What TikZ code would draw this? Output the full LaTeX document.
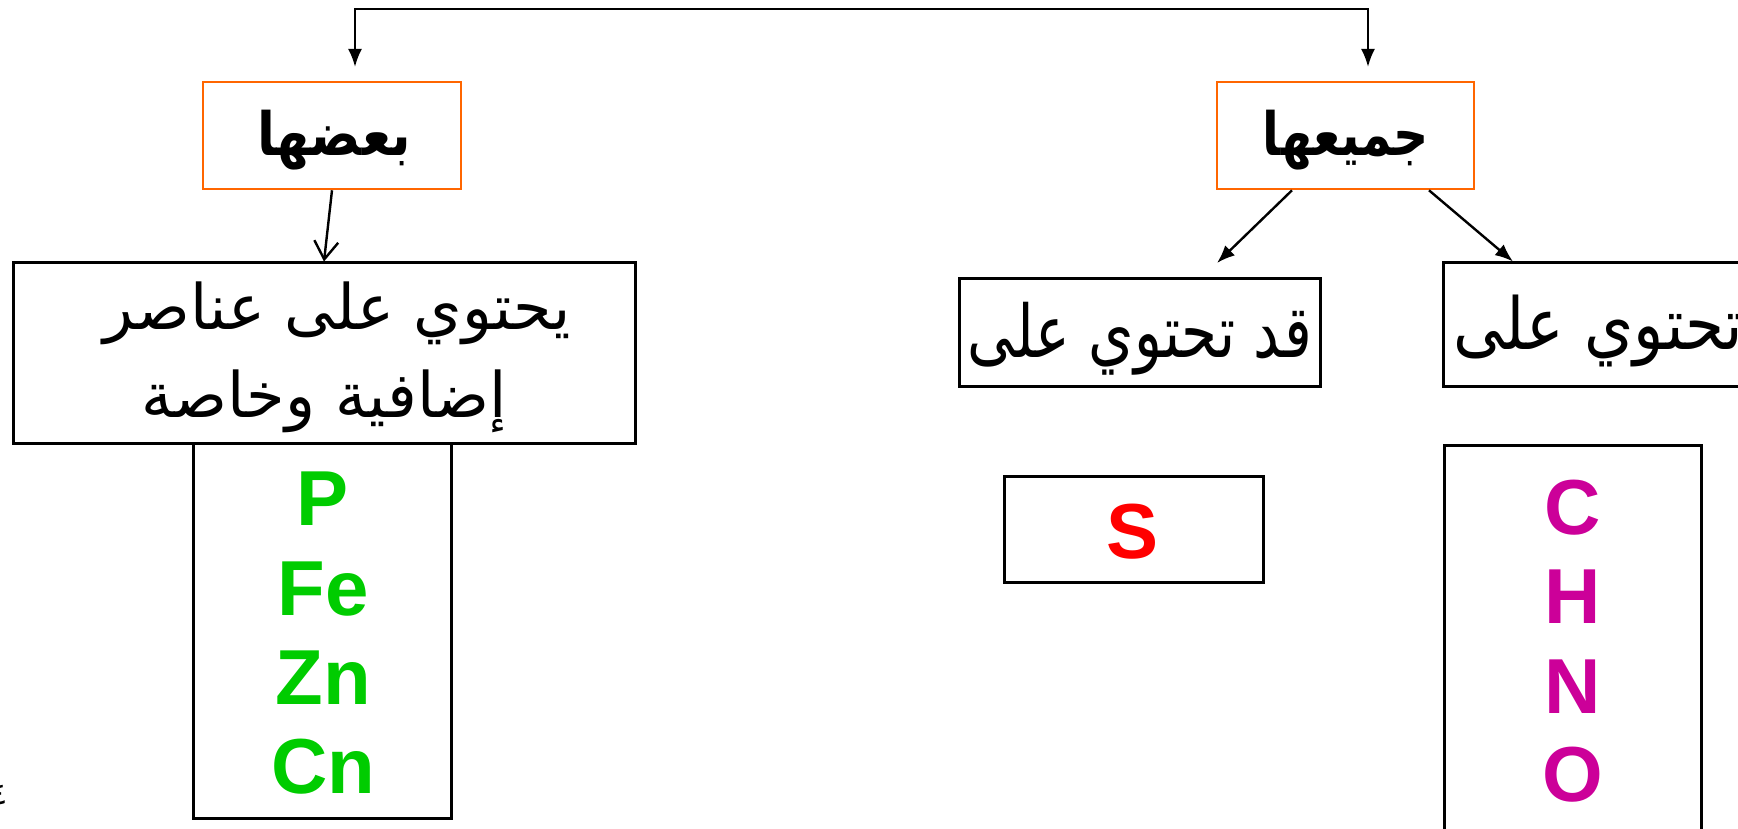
\documentclass[tikz,border=0pt]{standalone}
\usepackage{fontspec}
\usepackage{graphicx}
\setmainfont{Liberation Sans}
\newfontfamily\arabicfont[Script=Arabic]{DejaVu Sans}
\TeXXeTstate=1
\usetikzlibrary{arrows.meta}
\newcommand{\artxt}[3]{\resizebox*{#1}{#2}{\arabicfont #3}}
\newcommand{\artxtb}[3]{\resizebox*{#1}{#2}{\arabicfont\bfseries #3}}
\definecolor{orangec}{HTML}{FF6600}
\definecolor{greenc}{HTML}{00CC00}
\definecolor{magc}{HTML}{CC0099}
\definecolor{redc}{HTML}{FF0000}
\tikzset{
  obox/.style={draw=orangec, line width=2.6pt, inner sep=0pt},
  bbox/.style={draw=black, line width=3pt, inner sep=0pt},
  conn/.style={line width=2.4pt},
  tipf/.style={-{Latex[length=18pt,width=14pt]}},
  lbl/.style={inner sep=0pt},
  el/.style={font=\fontsize{78}{90}\selectfont\bfseries, inner sep=0pt, anchor=base}
}
\begin{document}
\begin{tikzpicture}[x=1pt,y=-1pt]
\useasboundingbox (0,0) rectangle (1738,829);
\clip (0,0) rectangle (1738,829);
% boxes
\node[obox, minimum width=258pt, minimum height=107pt] (oL) at (332,135.5) {};
\node[obox, minimum width=257pt, minimum height=107pt] (oR) at (1345.5,135.5) {};
\node[bbox, minimum width=622pt, minimum height=180pt] (bigL) at (324,353) {};
\node[bbox, minimum width=258pt, minimum height=375pt] (elL) at (322,630.5) {};
\node[bbox, minimum width=361pt, minimum height=108pt] (qad) at (1139.5,332) {};
\node[bbox, minimum width=322pt, minimum height=123pt] (tah) at (1604,324.5) {};
\node[bbox, minimum width=259pt, minimum height=106pt] (sbox) at (1133.5,529) {};
\node[bbox, minimum width=257pt, minimum height=405pt] (chno) at (1572.5,647.5) {};
% arabic labels
\node[lbl] (tL) at (334,140) {\artxtb{154pt}{60pt}{\beginR بعضها\endR}};
\node[lbl] (tR) at (1346,140) {\artxtb{166pt}{60pt}{\beginR جميعها\endR}};
\node[lbl] (l1) at (337,313.5) {\artxt{467pt}{63pt}{\beginR يحتوي على عناصر\endR}};
\node[lbl] (l2) at (324,401.5) {\artxt{365pt}{63pt}{\beginR إضافية وخاصة\endR}};
\node[lbl] (tq) at (1140,338.5) {\artxt{344pt}{73pt}{\beginR قد تحتوي على\endR}};
\node[lbl, anchor=west] (tt) at (1453,331) {\artxt{290pt}{72pt}{\beginR تحتوي على\endR}};
\node[lbl, anchor=east] (pg) at (8,795) {\arabicfont\fontsize{30}{30}\selectfont ٤};
% elements
\node[el, text=greenc] (eP) at (323,525) {P};
\node[el, text=greenc] (eFe) at (323,615) {Fe};
\node[el, text=greenc] (eZn) at (323,704) {Zn};
\node[el, text=greenc] (eCn) at (323,793) {Cn};
\node[el, text=redc] (eS) at (1133,558) {S};
\node[el, text=magc] (eC) at (1573,534) {C};
\node[el, text=magc] (eH) at (1573,623) {H};
\node[el, text=magc] (eN) at (1573,713) {N};
\node[el, text=magc] (eO) at (1573,801) {O};
% connectors
\coordinate (aL) at (355,67);
\coordinate (cL) at (355,9);
\coordinate (cR) at (1368,9);
\coordinate (aR) at (1368,67);
\draw[conn, {Latex[length=18pt,width=14pt]}-{Latex[length=18pt,width=14pt]}] (aL) -- (cL) -- (cR) -- (aR);
\draw[conn, -{Straight Barb[length=18pt,width=24pt]}] (oL.south) -- (bigL.north);
\coordinate (qtip) at (1217,263);
\draw[conn, tipf] ([xshift=-53.5pt]oR.south) -- (qtip);
\draw[conn, tipf] ([xshift=83.5pt]oR.south) -- ([xshift=-91pt]tah.north);
\end{tikzpicture}
\end{document}
